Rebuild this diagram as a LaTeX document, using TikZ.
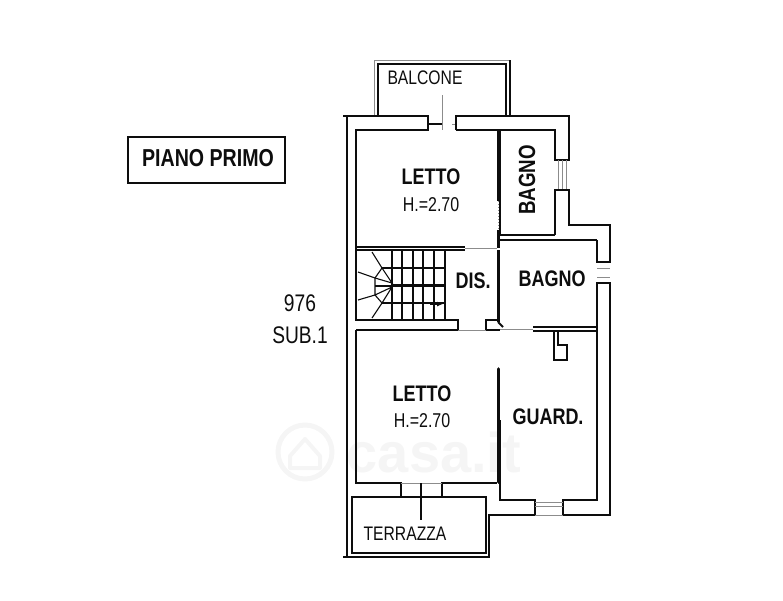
\documentclass[tikz,border=0pt]{standalone}
\usepackage{fontspec}
\usetikzlibrary{arrows.meta}
\setmainfont{Liberation Sans}
\newfontfamily\labelfont[FakeStretch=0.80]{Liberation Sans}
\definecolor{ink}{gray}{0.05}
\definecolor{thin}{gray}{0.55}
\definecolor{wm}{gray}{0.96}
\tikzset{
  wall/.style={draw=ink,line width=2pt,line join=miter},
  hair/.style={draw=ink,line width=1.1pt},
  soft/.style={draw=thin,line width=1pt},
  thick wall/.style={draw=ink,line width=3.6pt},
  boldlabel/.style={inner sep=0pt,text=ink,font=\labelfont\bfseries\fontsize{22.5}{22.5}\selectfont},
  titlelabel/.style={inner sep=0pt,text=ink,font=\labelfont\bfseries\fontsize{24.5}{24.5}\selectfont},
  bagnolabel/.style={inner sep=0pt,text=ink,font=\labelfont\bfseries\fontsize{23.4}{23.4}\selectfont},
  reglabel/.style={inner sep=0pt,text=ink,font=\labelfont\fontsize{20}{20}\selectfont},
  numlabel/.style={inner sep=0pt,text=ink,font=\labelfont\fontsize{24}{24}\selectfont},
  smalllabel/.style={inner sep=0pt,text=ink,font=\labelfont\fontsize{19.6}{20}\selectfont},
  wmlabel/.style={inner sep=0pt,text=wm,font=\bfseries\fontsize{56}{56}\selectfont},
}
\begin{document}
\begin{tikzpicture}[x=1pt,y=-1pt]
\useasboundingbox (0,0) rectangle (783,600);
% watermark
\node[wmlabel] (wmark) at (434,452) {casa.it};
\draw[wm,line width=5pt] (305,452) circle (27);
\draw[wm,line width=4pt,line join=round] (290,456) -- (305,439) -- (320,456) -- (320,468) -- (290,468) -- cycle;
% title box
\draw[hair] (128,137) rectangle (285,183);
\node[titlelabel] (title) at (208,158) {PIANO PRIMO};
\node[numlabel] (num) at (300,303) {976};
\node[numlabel] (sub) at (300,335) {SUB.1};
% balcony
\draw[soft] (374,116) -- (374,60) -- (510,60);
\draw[wall,line width=1.5pt] (510,60) -- (510,116);
\draw[wall,line width=1.5pt] (378,116) -- (378,64) -- (506,64) -- (506,116);
\draw[soft] (442,95) -- (442,130);
\draw[hair] (428,124) -- (442,124);
\draw[soft] (452,124) -- (456,124);
% outer wall, north and east
\draw[wall] (343,116) -- (428,116) -- (428,130) -- (356,130) -- (356,247);
\draw[wall] (347,116) -- (347,557);
\draw[wall] (456,130) -- (456,116) -- (569,116) -- (569,160) -- (555,160) -- (555,130) -- (456,130);
\draw[soft] (558,160) -- (558,190) (562,160) -- (562,190) (566,160) -- (566,190);
\draw[wall] (555,235) -- (555,190) -- (569,190) -- (569,225) -- (610,225) -- (610,262) -- (597,262) -- (597,240);
\draw[soft] (597,268) -- (610,268) (597,277) -- (610,277);
\draw[wall] (597,330) -- (597,283) -- (610,283) -- (610,515) -- (563,515) -- (563,500) -- (597,500) -- (597,330);
\draw[wall] (500,130) -- (500,235) -- (555,235);
\draw[wall] (500,240) -- (597,240);
% upper bedroom / bathroom partition
\draw[thick wall] (498.5,130) -- (498.5,201);
\draw[soft,dotted] (498.5,201) -- (498.5,230);
\draw[thick wall] (498.5,230) -- (498.5,248);
% landing walls
\draw[wall] (356,247) -- (465,247);
\draw[soft] (465,248) -- (497,248);
\draw[hair] (356,250) -- (465,250);
\draw[wall] (356,247) -- (356,320) -- (458,320) -- (458,330) -- (356,330);
\draw[wall] (486,330) -- (486,320) -- (497,320);
\draw[wall] (486,330) -- (500,330);
\draw[soft] (458,330) -- (486,330);
\draw[soft] (500,329) -- (533,329);
\draw[thick wall] (498.5,250) -- (498.5,322);
\draw[wall] (498,322) -- (503,327);
\draw[thick wall,line width=2.4pt] (533,327) -- (597,327);
\draw[wall] (533,331) -- (597,331);
\draw[hair] (445,250) -- (445,320);
% stairs
\foreach \sx in {392,402,413,423,434} {\draw[hair] (\sx,250) -- (\sx,320);}
\draw[hair] (382,268) -- (445,268) (382,303) -- (445,303);
\draw[thick wall,line width=3pt] (392,285) -- (445,285);
\draw[hair] (372,252) -- (382,268) -- (392,283) -- (375,278) -- (358,272);
\draw[hair] (375,278) -- (382,268);
\draw[hair] (375,278) -- (375,295) -- (382,303) -- (392,287) -- (375,295) -- (358,300);
\draw[hair] (372,318) -- (382,303);
\draw[hair] (375,286) -- (392,286);
\draw[hair,-{Latex[length=6pt,width=5pt]}] (430,304) -- (443,304);
% lower rooms
\draw[wall] (356,330) -- (356,483) -- (401,483) -- (401,497);
\draw[wall] (442,497) -- (442,483) -- (497,483);
\draw[soft] (401,483) -- (442,483);
\draw[hair] (421,483) -- (421,520);
\draw[thick wall,line cap=round] (498.5,369) -- (498.5,482);
\draw[wall] (500,420) -- (500,500) -- (535,500) -- (535,515) -- (488,515);
\draw[soft] (535,502) -- (563,502) (535,506) -- (563,506) (535,515) -- (563,515);
% closet
\draw[wall] (554,331) -- (554,360) -- (567,360) -- (567,345) -- (558,345) -- (558,331);
% terrace
\draw[wall] (352,497) -- (486,497) -- (486,553) -- (352,553) -- cycle;
\draw[wall] (343,557) -- (489,557) -- (489,515);
% labels
\node[boldlabel] (l1) at (431,177) {LETTO};
\node[reglabel] (h1) at (431,205) {H.=2.70};
\node[bagnolabel,rotate=90] (b1) at (527,180) {BAGNO};
\node[boldlabel] (dis) at (473,281) {DIS.};
\node[boldlabel] (b2) at (552,279) {BAGNO};
\node[boldlabel] (l2) at (422,394) {LETTO};
\node[reglabel] (h2) at (422,421) {H.=2.70};
\node[boldlabel] (g) at (548,417) {GUARD.};
\node[smalllabel] (bal) at (425,78) {BALCONE};
\node[smalllabel] (ter) at (405,534) {TERRAZZA};
\end{tikzpicture}
\end{document}
